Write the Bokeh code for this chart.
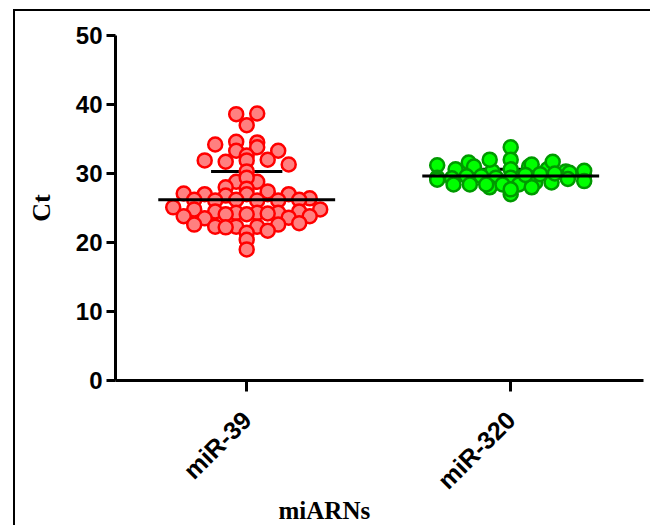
import numpy as np
from bokeh.plotting import figure
from bokeh.models import ColumnDataSource, FixedTicker, Range1d, Title
from bokeh.embed import file_html
from bokeh.resources import INLINE

# ---------------- data ----------------
categories = ["miR-39", "miR-320"]
mir39_ct = [38.6, 38.7, 37.0, 34.6, 34.2, 34.5, 33.3, 33.8, 33.3, 32.6,
            31.9, 31.7, 31.9, 32.0, 31.3, 30.3, 28.8, 28.8, 29.4, 28.0,
            27.8, 27.1, 27.0, 26.8, 27.0, 27.0, 27.0, 27.4, 26.4, 26.2,
            26.1, 26.2, 26.1, 26.1, 26.2, 25.1, 24.8, 24.5, 24.3, 24.3,
            24.3, 24.5, 24.8, 23.8, 23.5, 24.1, 24.1, 24.2, 23.6, 23.8,
            22.6, 22.3, 22.3, 22.2, 22.3, 22.6, 22.8, 21.4, 21.7, 20.4, 19.0]
mir320_ct = [33.8, 31.6, 31.2, 30.6, 31.0, 30.3, 32.0, 32.0, 30.6, 31.0,
             30.6, 31.3, 31.7, 30.3, 29.4, 29.1, 29.3, 29.6, 29.6, 29.4,
             29.4, 28.4, 28.4, 28.0, 28.4, 28.4, 28.4, 28.7, 28.7, 27.0,
             27.7, 28.0, 29.8, 29.9, 30.0, 30.1, 29.7, 30.4, 29.2, 28.9]
y_ticks = [0, 10, 20, 30, 40, 50]
x_title = "miARNs"
y_title = "Ct"

W, H = 637, 516
PX_X = 264.0   # pixels per x unit (frame 528 px / 2 units)


def row_offsets(vals, bin_w=1.0, origin=0.25, spacing_px=21.0, half_width_px=73.5):
    """Prism-like column scatter: values in the same band are spread side by side,
    the band is squeezed when it would get wider than half_width_px."""
    vals = np.asarray(vals, dtype=float)
    bins = np.floor((vals - origin) / bin_w).astype(int)
    offs = np.zeros(len(vals))
    for b in np.unique(bins):
        idx = np.where(bins == b)[0]
        n = len(idx)
        sp = spacing_px if n < 2 else min(spacing_px, 2 * half_width_px / (n - 1))
        for j, i in enumerate(idx):
            offs[i] = (j - (n - 1) / 2.0) * sp / PX_X
    return offs


p = figure(width=W, height=H, output_backend="svg", toolbar_location=None,
           x_range=Range1d(0.503, 2.503), y_range=Range1d(0, 50),
           min_border_left=100, min_border_right=9, min_border_top=24, min_border_bottom=147,
           margin=(9, 0, 0, 13),
           styles={"border-left": "2px solid #000", "border-top": "2px solid #000"})
p.outline_line_color = None
p.grid.visible = False
p.background_fill_color = "white"
p.border_fill_color = "white"

series = [(mir39_ct, "#FF8080", "#FF0000"), (mir320_ct, "#00FF00", "#009900")]
for ci, (vals, fill, line) in enumerate(series):
    xc = ci + 1
    arr = np.asarray(vals)
    med = float(np.median(arr))
    q3 = float(np.percentile(arr, 75))
    # error bar (above only): behind the points
    p.segment(x0=[xc], y0=[med], x1=[xc], y1=[q3], line_color="black", line_width=2.5)
    p.segment(x0=[xc - 0.135], y0=[q3], x1=[xc + 0.135], y1=[q3], line_color="black", line_width=3)
    src = ColumnDataSource(dict(x=xc + row_offsets(vals), y=arr))
    p.scatter("x", "y", source=src, size=14, fill_color=fill, line_color=line,
              line_width=2.5, marker="circle")
    # median line on top
    p.segment(x0=[xc - 0.335], y0=[med], x1=[xc + 0.335], y1=[med], line_color="black", line_width=3)

# axes
p.yaxis.ticker = FixedTicker(ticks=y_ticks)
p.xaxis.ticker = FixedTicker(ticks=[1, 2])
p.xaxis.major_label_overrides = {1: categories[0], 2: categories[1]}
for ax in (p.xaxis, p.yaxis):
    ax.axis_line_width = 3
    ax.axis_line_color = "black"
    ax.major_tick_line_width = 3
    ax.major_tick_line_color = "black"
    ax.major_tick_in = 0
    ax.minor_tick_line_color = None
    ax.major_label_text_font = "Liberation Sans"
    ax.major_label_text_font_style = "bold"
    ax.major_label_text_color = "black"
p.yaxis.major_label_text_font_size = "24px"
p.xaxis.major_label_text_font_size = "25px"
p.yaxis.major_tick_out = 9
p.yaxis.major_label_standoff = 4
p.xaxis.major_tick_out = 11
p.xaxis.major_label_standoff = 24
p.xaxis.major_label_orientation = np.pi / 4

p.yaxis.axis_label = y_title
p.yaxis.axis_label_text_font = "Liberation Serif"
p.yaxis.axis_label_text_font_style = "bold"
p.yaxis.axis_label_text_font_size = "26px"
p.yaxis.axis_label_text_color = "black"
p.yaxis.axis_label_standoff = 17

p.add_layout(Title(text=x_title, align="left", offset=163, standoff=-26,
                   text_font="Liberation Serif", text_font_style="bold",
                   text_font_size="25px", text_color="black"), "below")

open("out.html", "w").write(file_html(p, INLINE))
